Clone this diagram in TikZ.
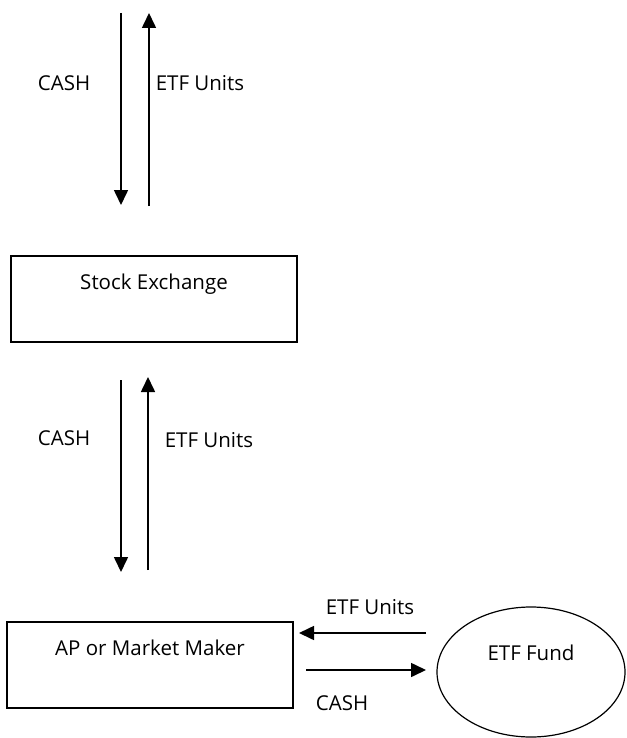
\documentclass[tikz,border=0pt]{standalone}
\usepackage{fontspec}
\setmainfont{Open Sans}
\usetikzlibrary{arrows.meta,shapes.geometric}

\begin{document}
\begin{tikzpicture}[x=1pt, y=1pt,
    every node/.style={font=\fontsize{20.5}{24}\selectfont},
    box/.style={draw, line width=1.6pt, rectangle, minimum width=286pt,
      inner sep=0pt, text height=33pt, text depth=53pt},
    flow/.style={-{Triangle[length=15pt,width=14pt]}, line width=1.6pt}]
    \useasboundingbox (0,0) rectangle (626,-738);

    \node[box] (se) at (154,-299) {Stock Exchange};
    \node[box] (ap) at (150,-665) {AP or Market Maker};
    \node[ellipse, draw, line width=1.2pt, minimum width=188pt, minimum height=130pt,
      label={[yshift=19pt]center:ETF Fund}] (fund) at (531,-672) {};

    % ends of the vertical flows
    \coordinate (c1a) at (121,-13);
    \coordinate (c1b) at (121,-205);
    \coordinate (u1a) at (149,-206);
    \coordinate (u1b) at (149,-13);
    \coordinate (c2a) at (121,-380);
    \coordinate (c2b) at (121,-572);
    \coordinate (u2a) at (148,-570);
    \coordinate (u2b) at (148,-377);

    % ends of the horizontal flows
    \coordinate (u3a) at (426,-633);
    \coordinate (u3b) at (299,-633);
    \coordinate (c3a) at (306,-670);
    \coordinate (c3b) at (426,-670);

    \node (cash1) at (64,-83) {CASH};
    \node (units1) at (200,-83) {ETF Units};
    \node (cash2) at (64,-438) {CASH};
    \node (units2) at (209,-440) {ETF Units};
    \node (units3) at (370,-607) {ETF Units};
    \node (cash3) at (342,-703) {CASH};

    \draw[flow] (c1a) -- (c1b);
    \draw[flow] (u1a) -- (u1b);
    \draw[flow] (c2a) -- (c2b);
    \draw[flow] (u2a) -- (u2b);
    \draw[flow] (u3a) -- (u3b);
    \draw[flow] (c3a) -- (c3b);
\end{tikzpicture}
\end{document}
